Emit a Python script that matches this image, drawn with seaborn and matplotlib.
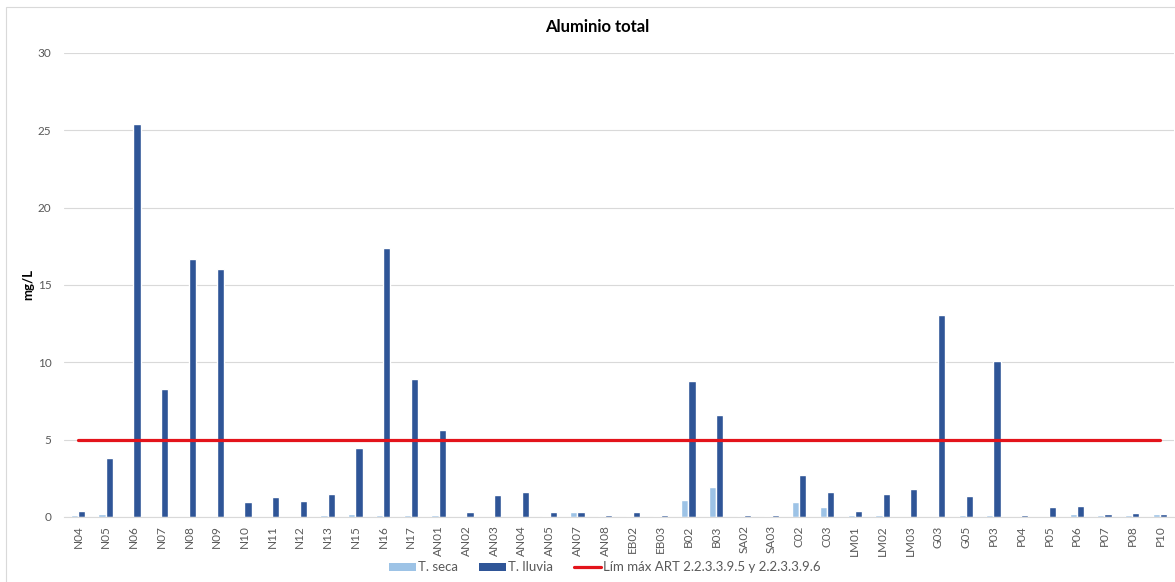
import matplotlib
matplotlib.use("Agg")
import matplotlib.pyplot as plt
from matplotlib.patches import Patch, Rectangle
from matplotlib.lines import Line2D
import seaborn as sns
import pandas as pd

# Sampling stations
stations = ["N04", "N05", "N06", "N07", "N08", "N09", "N10", "N11", "N12", "N13",
            "N15", "N16", "N17", "AN01", "AN02", "AN03", "AN04", "AN05", "AN07", "AN08",
            "EB02", "EB03", "B02", "B03", "SA02", "SA03", "C02", "C03", "LM01", "LM02",
            "LM03", "G03", "G05", "P03", "P04", "P05", "P06", "P07", "P08", "P10"]

# Total aluminium (mg/L), dry season
seca = [0.13, 0.2, 0.02, 0.02, 0.03, 0.03, 0.03, 0.03, 0.03, 0.1,
        0.2, 0.15, 0.1, 0.1, 0.03, 0.03, 0.03, 0.05, 0.3, 0.05,
        0.05, 0.05, 1.08, 1.96, 0.05, 0.05, 0.97, 0.67, 0.13, 0.15,
        0.03, 0.03, 0.1, 0.15, 0.03, 0.03, 0.2, 0.1, 0.15, 0.2]

# Total aluminium (mg/L), rainy season
lluvia = [0.4, 3.79, 25.4, 8.27, 16.7, 16.03, 0.97, 1.29, 1.03, 1.46,
          4.46, 17.39, 8.92, 5.6, 0.3, 1.44, 1.64, 0.3, 0.34, 0.11,
          0.3, 0.15, 8.79, 6.6, 0.15, 0.1, 2.7, 1.6, 0.41, 1.49,
          1.83, 13.06, 1.34, 10.08, 0.15, 0.63, 0.69, 0.2, 0.26, 0.2]

# Regulatory maximum
limite = [5.0] * len(stations)

series_names = ["T. seca", "T. lluvia"]
limit_name = "Lím máx ART 2.2.3.3.9.5 y 2.2.3.3.9.6"

c_seca = "#9DC3E6"
c_lluvia = "#2F5597"
c_limit = "#E3141B"
c_text = "#595959"

df = pd.DataFrame({
    "station": stations * 2,
    "value": seca + lluvia,
    "series": [series_names[0]] * len(stations) + [series_names[1]] * len(stations),
})

sns.set_theme(style="white")
plt.rcParams["font.family"] = ["Lato", "DejaVu Sans"]

fig = plt.figure(figsize=(11.75, 5.82), dpi=100)
ax = fig.add_axes([0.0545, 0.1117, 0.9445, 0.7973])

sns.barplot(data=df, x="station", y="value", hue="series", order=stations,
            hue_order=series_names, palette=[c_seca, c_lluvia],
            width=0.52, saturation=1, ax=ax, legend=False, errorbar=None)

ax.plot(range(len(stations)), limite, color=c_limit, linewidth=2.3, zorder=5)

ax.set_xlim(-0.5, len(stations) - 0.5)
ax.set_ylim(0, 30)
ax.set_yticks(range(0, 31, 5))
ax.yaxis.grid(True, color="#D9D9D9", linewidth=0.8)
ax.set_axisbelow(True)
for side in ["top", "right", "left"]:
    ax.spines[side].set_visible(False)
ax.spines["bottom"].set_color("#D9D9D9")
ax.spines["bottom"].set_linewidth(0.8)

ax.tick_params(axis="y", labelsize=8.5, labelcolor=c_text, length=0, pad=9)
ax.tick_params(axis="x", labelsize=8.5, labelcolor=c_text, length=0, pad=6)
plt.setp(ax.get_xticklabels(), rotation=90)

ax.set_xlabel("")
ax.set_ylabel("mg/L", fontsize=9.5, fontweight="bold", color="#000000")
ax.yaxis.set_label_coords(-0.027, 0.5)

fig.text(0.508, 0.953, "Aluminio total", ha="center", va="center",
         fontsize=12, fontweight="bold", color="#000000")

handles = [Patch(facecolor=c_seca, edgecolor="none"),
           Patch(facecolor=c_lluvia, edgecolor="none"),
           Line2D([0], [0], color=c_limit, linewidth=2.3)]
fig.legend(handles, series_names + [limit_name], loc="center",
           bbox_to_anchor=(0.515, 0.025), ncol=3, frameon=False,
           fontsize=9.5, labelcolor=c_text, handlelength=2.0, handleheight=0.55,
           columnspacing=1.6, handletextpad=0.2)

# chart frame
fig.patches.append(Rectangle((6 / 1175, -0.1), 1.2, 1.1 - 7 / 582,
                             transform=fig.transFigure, fill=False,
                             edgecolor="#D9D9D9", linewidth=0.8))

fig.savefig("out.png", dpi=100)
